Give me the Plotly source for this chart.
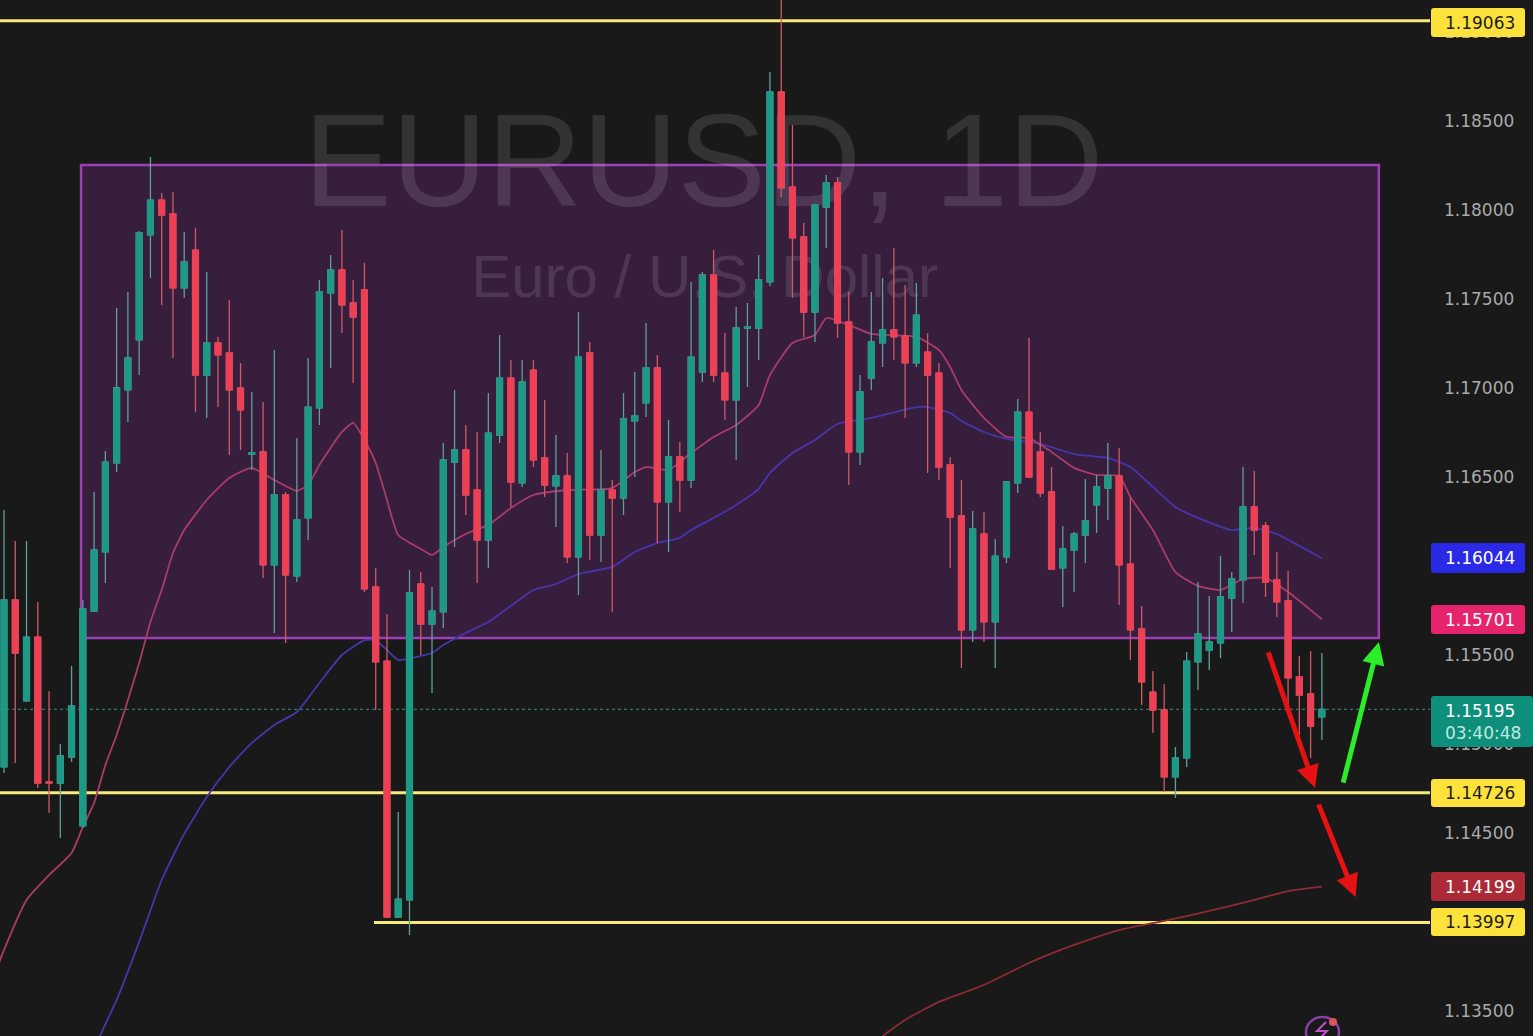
import plotly.graph_objects as go

# ---- chart data ----
opens = [1.14871,1.15809,1.15242,1.15601,1.14787,1.14781,1.14927,1.14540,1.15747,1.16079,
1.16579,1.16989,1.17270,1.17860,1.18056,1.17978,1.17562,1.17775,1.17073,1.17253,
1.17197,1.17000,1.16629,1.16641,1.16006,1.16399,1.15944,1.16270,1.16888,1.17534,
1.17663,1.17478,1.17551,1.15882,1.15466,1.14028,1.14124,1.15899,1.15674,1.15742,
1.16584,1.16652,1.16427,1.16146,1.16736,1.17056,1.16467,1.17101,1.16607,1.16450,
1.16506,1.16051,1.17197,1.16174,1.16427,1.16382,1.16815,1.16916,1.17113,1.16360,
1.16613,1.16483,1.17090,1.17635,1.17084,1.16933,1.17337,1.17337,1.17596,1.18663,
1.18129,1.17849,1.17427,1.18017,1.18152,1.17371,1.16641,1.17056,1.17253,1.17326,
1.17292,1.17141,1.17202,1.17084,1.16568,1.16281,1.15641,1.16180,1.15686,1.16051,
1.16467,1.16865,1.16641,1.16416,1.15989,1.16090,1.16174,1.16343,1.16438,1.16506,
1.16011,1.15646,1.15292,1.15191,1.14815,1.14922,1.15461,1.15528,1.15568,1.15820,
1.15922,1.16332,1.16225,1.15922,1.15804,1.15377,1.15281,1.15152]
highs = [1.16315,1.16141,1.16141,1.15798,1.15298,1.15000,1.15438,1.15809,1.16416,1.16646,
1.17450,1.17540,1.17882,1.18298,1.18096,1.18101,1.17877,1.17899,1.17652,1.17287,
1.17495,1.17141,1.16978,1.16922,1.17214,1.16416,1.16719,1.17169,1.17607,1.17747,
1.17888,1.17607,1.17702,1.15989,1.15731,1.14618,1.15978,1.15966,1.15882,1.16691,
1.16989,1.16792,1.16753,1.16972,1.17298,1.17158,1.17158,1.17158,1.16933,1.16736,
1.16635,1.17427,1.17259,1.16652,1.16483,1.16972,1.17090,1.17365,1.17186,1.16820,
1.16697,1.17596,1.17652,1.17775,1.17309,1.17455,1.17478,1.17747,1.18776,1.19236,
1.18478,1.17927,1.18034,1.18197,1.18186,1.17540,1.17073,1.17540,1.17618,1.17787,
1.17579,1.17590,1.17309,1.17141,1.16613,1.16483,1.16309,1.16304,1.16152,1.16478,
1.16938,1.17281,1.16753,1.16556,1.16225,1.16191,1.16489,1.16511,1.16691,1.16663,
1.16382,1.15775,1.15410,1.15337,1.14983,1.15517,1.15910,1.15832,1.16056,1.15966,
1.16556,1.16534,1.16247,1.16079,1.15972,1.15495,1.15523,1.15511]
lows = [1.14837,1.14893,1.15236,1.14753,1.14613,1.14472,1.14899,1.14528,1.15742,1.15905,
1.16528,1.16809,1.17073,1.17618,1.17467,1.17169,1.17506,1.16865,1.16832,1.16893,
1.16624,1.16652,1.16540,1.15933,1.15624,1.15568,1.15910,1.16146,1.16792,1.17113,
1.17309,1.17028,1.15854,1.15191,1.14023,1.14028,1.13927,1.15500,1.15287,1.15652,
1.16107,1.16287,1.15905,1.15989,1.16691,1.16332,1.16444,1.16556,1.16388,1.16219,
1.16017,1.15837,1.16034,1.16023,1.15742,1.16287,1.16500,1.16837,1.16129,1.16079,
1.16304,1.16438,1.17034,1.17034,1.16820,1.16596,1.17006,1.17158,1.17573,1.18073,
1.17506,1.17287,1.17259,1.17787,1.17281,1.16455,1.16568,1.16989,1.17118,1.17158,
1.16832,1.17118,1.16523,1.16483,1.15989,1.15427,1.15573,1.15573,1.15427,1.16017,
1.16410,1.16500,1.16388,1.15978,1.15770,1.15854,1.16017,1.16186,1.16259,1.15781,
1.15472,1.15219,1.15062,1.14731,1.14697,1.14871,1.15304,1.15416,1.15483,1.15629,
1.15792,1.16062,1.15826,1.15714,1.15208,1.15051,1.14922,1.15023]
closes = [1.15809,1.15511,1.15601,1.14781,1.14781,1.14933,1.15214,1.15759,1.16090,1.16584,
1.17000,1.17169,1.17871,1.18056,1.17972,1.17562,1.17708,1.17073,1.17253,1.17186,
1.16989,1.16877,1.16635,1.16006,1.16399,1.15950,1.16259,1.16893,1.17540,1.17663,
1.17467,1.17399,1.15871,1.15461,1.14028,1.14129,1.15849,1.15674,1.15747,1.16596,
1.16652,1.16399,1.16146,1.16747,1.17056,1.16472,1.17034,1.16596,1.16455,1.16506,
1.16051,1.17174,1.16174,1.16427,1.16382,1.16826,1.16843,1.17113,1.16360,1.16613,
1.16483,1.17174,1.17635,1.17073,1.16933,1.17337,1.17343,1.17607,1.18663,1.18124,
1.17843,1.17427,1.18028,1.18152,1.17365,1.16641,1.16978,1.17259,1.17326,1.17287,
1.17141,1.17410,1.17073,1.16556,1.16275,1.15641,1.16208,1.15686,1.16056,1.16472,
1.16865,1.16500,1.16410,1.15983,1.16096,1.16180,1.16253,1.16444,1.16506,1.16006,
1.15641,1.15349,1.15191,1.14815,1.14922,1.15466,1.15618,1.15573,1.15826,1.15927,
1.16332,1.16202,1.15910,1.15798,1.15371,1.15275,1.15101,1.15195]
candle_index = list(range(len(opens)))

ma_pink_index = [-1,0,2,4,6,7,8,9,10,11,12,13,14,15,16,18,20,22,24,26,27,28,30,31,32,33,34,35,37,38,39,
41,43,45,47,50,54,56,57,59,61,63,65,67,68,70,72,73,75,77,81,83,84,85,87,89,91,93,95,97,99,
100,102,104,106,108,110,112,114,117]
ma_pink = [1.13674,1.13843,1.14124,1.14264,1.14388,1.14534,1.14669,1.14882,1.15051,1.15247,1.15455,
1.15686,1.15865,1.16073,1.16202,1.16371,1.16495,1.16551,1.16483,1.16422,1.16455,
1.16568,1.16753,1.16804,1.16708,1.16579,1.16371,1.16174,1.16096,1.16062,1.16107,
1.16180,1.16231,1.16326,1.16399,1.16427,1.16438,1.16528,1.16556,1.16540,1.16635,
1.16725,1.16792,1.16905,1.17073,1.17253,1.17298,1.17393,1.17354,1.17304,1.17287,
1.17214,1.17118,1.16989,1.16832,1.16725,1.16719,1.16641,1.16551,1.16511,1.16506,
1.16388,1.16202,1.15966,1.15888,1.15865,1.15927,1.15933,1.15854,1.15701]
ma_blue_index = [8,10,12,14,16,18,20,22,24,26,28,30,32,33,34,35,37,38,39,41,43,45,47,49,51,54,56,58,60,61,
63,65,67,68,70,72,74,77,81,82,84,85,87,89,92,95,98,100,102,104,106,109,111,113,115,117]
ma_blue = [1.13292,1.13562,1.13888,1.14236,1.14495,1.14702,1.14871,1.15006,1.15107,1.15180,
1.15343,1.15500,1.15584,1.15584,1.15528,1.15472,1.15495,1.15511,1.15556,1.15624,
1.15686,1.15776,1.15865,1.15899,1.15955,1.15995,1.16079,1.16129,1.16158,1.16202,
1.16270,1.16343,1.16433,1.16523,1.16635,1.16708,1.16798,1.16832,1.16893,1.16893,
1.16860,1.16815,1.16753,1.16714,1.16686,1.16629,1.16607,1.16556,1.16444,1.16332,
1.16270,1.16202,1.16214,1.16180,1.16113,1.16044]
ma_red_index = [78,80,83,87,91,95,99,103,107,111,114,117]
ma_red = [1.13360,1.13450,1.13551,1.13646,1.13770,1.13871,1.13955,1.14006,1.14062,1.14124,1.14174,1.14199]

tick_values = [1.135,1.145,1.15,1.155,1.16,1.165,1.17,1.175,1.18,1.185,1.19]
tick_labels = ["1.13500","1.14500","1.15000","1.15500","1.16000","1.16500","1.17000","1.17500","1.18000","1.18500","1.19000"]

level_top, level_mid, level_low = 1.19063, 1.14726, 1.13997
box_top, box_bottom = 1.18253, 1.15596
box_left, box_right = 6.84, 122.06
last_price = 1.15195
# ------------------------------------------

W, H, PLOT_W = 1533, 1036, 1430
X_RANGE = [-0.355, 126.6]
Y_RANGE = [1.133596, 1.191798]
BG = "#191919"
TEAL, RED = "#1c9a86", "#ee4054"
TEAL_W, RED_W = "#5f9f9c", "#cf5a68"

def px(x): return x / PLOT_W
def py(y): return 1 - y / H

fig = go.Figure()

# watermark and moving averages sit under the candles
fig.add_trace(go.Scatter(x=[62.1], y=[1.18210], mode="text", text=["EURUSD, 1D"], hoverinfo="skip",
    textposition="middle center", textfont=dict(family="Liberation Sans", size=132, color="rgba(255,255,255,0.115)")))
fig.add_trace(go.Scatter(x=[62.2], y=[1.17596], mode="text", text=["Euro / U.S. Dollar"], hoverinfo="skip",
    textposition="middle center", textfont=dict(family="Liberation Sans", size=60, color="rgba(255,255,255,0.115)")))
for xs, ys, col in [(ma_red_index, ma_red, "#8c2b33"),
                    (ma_blue_index, ma_blue, "#4636ad"),
                    (ma_pink_index, ma_pink, "#a93c68")]:
    fig.add_trace(go.Scatter(x=xs, y=ys, mode="lines", line=dict(color=col, width=1.8, shape="spline", smoothing=0.5)))

# wicks, then bodies, on an overlaid pair of axes so they cover the lines
fig.add_trace(go.Candlestick(x=candle_index, open=opens, high=highs, low=lows, close=closes,
    xaxis="x2", yaxis="y2", whiskerwidth=0,
    increasing=dict(line=dict(color=TEAL_W, width=1.3), fillcolor=TEAL),
    decreasing=dict(line=dict(color=RED_W, width=1.3), fillcolor=RED)))
fig.add_trace(go.Candlestick(x=candle_index, open=opens, close=closes,
    high=[max(a, b) for a, b in zip(opens, closes)], low=[min(a, b) for a, b in zip(opens, closes)],
    xaxis="x2", yaxis="y2", whiskerwidth=0,
    increasing=dict(line=dict(color=TEAL, width=1), fillcolor=TEAL),
    decreasing=dict(line=dict(color=RED, width=1), fillcolor=RED)))

shapes = [
    dict(type="rect", xref="x", yref="y", x0=box_left, x1=box_right, y0=box_bottom, y1=box_top,
         fillcolor="#371e3c", line=dict(color="#9c3fb4", width=2.5), layer="below"),
    dict(type="line", xref="paper", yref="y", x0=0, x1=1, y0=last_price, y1=last_price,
         line=dict(color="#2f8f80", width=1, dash="dot"), layer="below"),
]
for x0, lvl in [(X_RANGE[0], level_top), (X_RANGE[0], level_mid), (32.85, level_low)]:
    shapes.append(dict(type="line", xref="x", yref="y", x0=x0, x1=X_RANGE[1], y0=lvl, y1=lvl,
                       line=dict(color="#f6ea7a", width=3), layer="below"))

def rbox(x0, y0, x1, y1, col, r=3):
    p = (f"M {px(x0+r)} {py(y0)} L {px(x1-r)} {py(y0)} Q {px(x1)} {py(y0)} {px(x1)} {py(y0+r)} "
         f"L {px(x1)} {py(y1-r)} Q {px(x1)} {py(y1)} {px(x1-r)} {py(y1)} L {px(x0+r)} {py(y1)} "
         f"Q {px(x0)} {py(y1)} {px(x0)} {py(y1-r)} L {px(x0)} {py(y0+r)} Q {px(x0)} {py(y0)} {px(x0+r)} {py(y0)} Z")
    return dict(type="path", xref="paper", yref="paper", path=p, fillcolor=col, line=dict(width=0), layer="above")

label_font = "DejaVu Sans"
anns = []
def label(text, y0, y1, col, fg, x1=1525):
    shapes.append(rbox(1431, y0, x1, y1, col))
    anns.append(dict(xref="paper", yref="paper", x=px(1443), y=py((y0 + y1) / 2), xanchor="left", yanchor="middle",
                     text=text, showarrow=False, align="left", font=dict(family=label_font, size=17, color=fg)))

label("1.19063", 8, 37, "#fde23c", "#1c1c1c")
label("1.16044", 543, 573, "#2a2ae6", "#ffffff")
label("1.15701", 605, 634, "#e5246c", "#ffffff")
label("1.15195<br><span style='color:#bfe9e0'>03:40:48</span>", 696, 747, "#0e8f7b", "#ffffff", x1=1533)
label("1.14726", 779, 807, "#fde23c", "#1c1c1c")
label("1.14199", 872, 901, "#ab2a36", "#ffffff")
label("1.13997", 908, 936, "#fde23c", "#1c1c1c")

# drawn arrows
for x_tail, y_tail, x_head, y_head, col in [(112.2, 1.15523, 116.4, 1.14753, "#e61212"),
                                            (116.65, 1.14669, 120.0, 1.14141, "#e61212"),
                                            (118.86, 1.14775, 122.06, 1.15573, "#2bee2b")]:
    anns.append(dict(xref="x", yref="y", axref="x", ayref="y", x=x_head, y=y_head, ax=x_tail, ay=y_tail,
                     text="", showarrow=True, arrowhead=2, arrowsize=0.9, arrowwidth=5, arrowcolor=col))

# small badge cut by the bottom edge
shapes.append(dict(type="circle", xref="paper", yref="paper", x0=px(1306), x1=px(1339), y0=py(1047), y1=py(1017),
                   line=dict(color="#8a3fa6", width=2.5), layer="above"))
shapes.append(dict(type="path", xref="paper", yref="paper", layer="above", fillcolor="rgba(0,0,0,0)",
                   path=f"M {px(1326)} {py(1022)} L {px(1317)} {py(1031)} L {px(1327)} {py(1031)} L {px(1321)} {py(1037)}",
                   line=dict(color="#c04fd0", width=2)))
shapes.append(dict(type="circle", xref="paper", yref="paper", x0=px(1329), x1=px(1337), y0=py(1026), y1=py(1018),
                   fillcolor="#d9555c", line=dict(width=0), layer="above"))

fig.update_layout(
    width=W, height=H, autosize=False, showlegend=False,
    margin=dict(l=0, r=W - PLOT_W, t=0, b=0, pad=0),
    paper_bgcolor=BG, plot_bgcolor=BG, boxgap=0.25,
    shapes=shapes, annotations=anns,
    xaxis=dict(range=X_RANGE, visible=False, rangeslider=dict(visible=False), fixedrange=True),
    yaxis=dict(range=Y_RANGE, side="right", tickvals=tick_values, ticktext=tick_labels, ticks="", showgrid=False,
               zeroline=False, showline=False, ticklabelstandoff=13, fixedrange=True,
               tickfont=dict(family=label_font, size=17, color="#a9a9a9")),
    xaxis2=dict(range=X_RANGE, visible=False, overlaying="x", rangeslider=dict(visible=False), fixedrange=True),
    yaxis2=dict(range=Y_RANGE, visible=False, overlaying="y", side="right", fixedrange=True),
)

fig.write_html("out.html", config={"displayModeBar": False},
               post_script="document.body.style.margin='0';document.documentElement.style.overflow='hidden';")
